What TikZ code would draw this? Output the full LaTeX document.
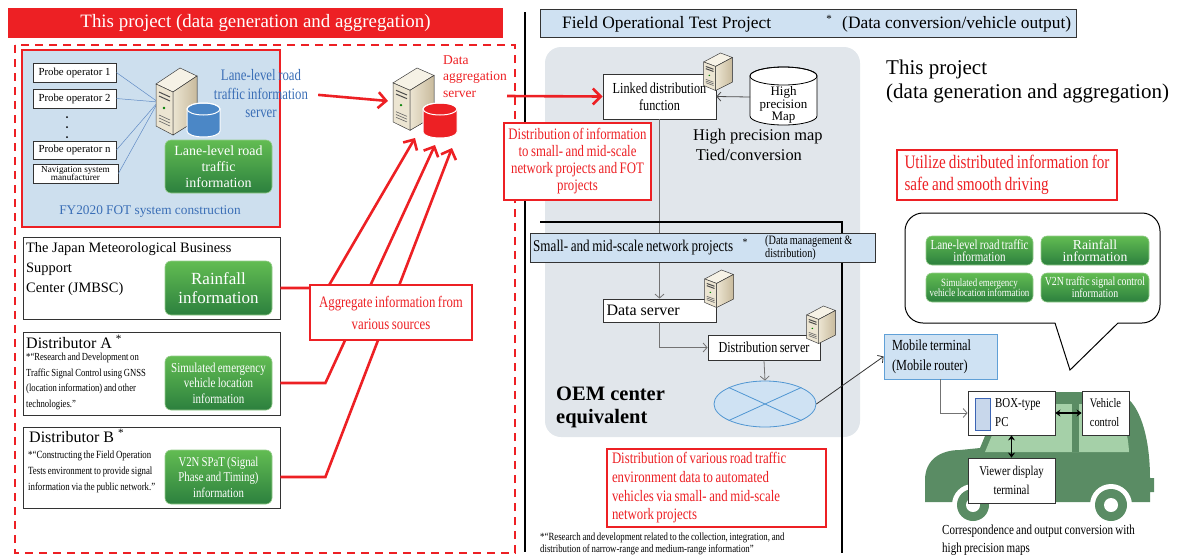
\documentclass[tikz,border=0pt]{standalone}
\usepackage{fontspec}
\setmainfont{Liberation Serif}
\newfontfamily\cond[FakeStretch=0.8,WordSpace=0.8]{Liberation Serif}
\usetikzlibrary{arrows.meta,shapes.geometric}
\definecolor{redc}{RGB}{237,32,36}
\definecolor{hdrblue}{RGB}{207,225,242}
\definecolor{fotblue}{RGB}{205,223,238}
\definecolor{bgray}{RGB}{225,230,235}
\definecolor{grnT}{RGB}{98,188,82}
\definecolor{grnB}{RGB}{44,128,62}
\definecolor{grnL}{RGB}{150,205,140}
\definecolor{labblue}{RGB}{58,110,182}
\definecolor{dbblue}{RGB}{75,135,198}
\definecolor{mobline}{RGB}{96,160,215}
\definecolor{mobfill}{RGB}{207,226,243}
\definecolor{netline}{RGB}{80,150,210}
\definecolor{carg}{RGB}{90,140,100}
\definecolor{carw}{RGB}{165,208,168}
\definecolor{pcblue}{RGB}{200,215,235}
\definecolor{pcline}{RGB}{60,100,180}
\definecolor{srvtop}{RGB}{246,242,230}
\definecolor{srvfront}{RGB}{236,229,210}
\definecolor{srvside}{RGB}{200,186,156}
\newcommand\fsz[2]{\fontsize{#1}{#2}\selectfont}
\tikzset{
  sz/.style 2 args={minimum width=#1pt,minimum height=#2pt},
  wbox/.style={draw=black!80,fill=white,line width=0.8pt,inner sep=0pt},
  info/.style={rounded corners=6pt,top color=grnT,bottom color=grnB,draw=grnL,line width=0.6pt,text=white,align=center,inner sep=0pt},
  redbox/.style={draw=redc,line width=1.6pt,fill=white,text=redc,align=center,inner sep=0pt},
  hdr/.style={draw=black!80,fill=hdrblue,line width=1pt,inner sep=0pt},
  txt/.style={anchor=north west,align=left,inner sep=0pt},
  redarr/.style={draw=redc,line width=2.6pt,-{Straight Barb[length=8pt,width=16pt]}},
  garr/.style={draw=black!55,line width=0.8pt,-{Straight Barb[length=4pt,width=9pt]}},
  dblarr/.style={draw=black,line width=1.3pt,{Stealth[length=5pt,width=7pt]}-{Stealth[length=5pt,width=7pt]}},
  server/.pic={
    \filldraw[draw=black!75,line width=0.5pt,fill=srvtop] (1,16) -- (25,0) -- (42,8) -- (18,24) -- cycle;
    \filldraw[draw=black!75,line width=0.5pt,fill=srvfront] (1,16) -- (18,24) -- (18,67) -- (1,58) -- cycle;
    \filldraw[draw=black!75,line width=0.5pt,left color=srvfront,right color=srvside] (18,24) -- (42,8) -- (42,52) -- (18,67) -- cycle;
    \foreach \d in {0,4} \draw[black!70,line width=1pt] (4,24+\d) -- (15,29+\d);
    \fill[green!50!black] (9,40) circle (1.3);
    \foreach \d in {0,3,6} \draw[black!60,line width=0.6pt] (4,47+\d) -- (15,52+\d);
  },
}

\begin{document}
\begin{tikzpicture}[x=1pt,y=-1pt]
  \useasboundingbox (0,0) rectangle (1179,558);
  \node[fill=redc,sz={495}{30},inner sep=0,text=white,font=\fsz{18.9}{20}] (ttl) at (255.5,23) {This project (data generation and aggregation)};
  \draw[redc,line width=2pt,dash pattern=on 8pt off 6pt] (15,45) rectangle (515,553);
  \node[draw=redc,line width=2pt,fill=fotblue,sz={258}{177},inner sep=0] (fot) at (151,138.5) {};
  \node[text=labblue,font=\fsz{13.3}{15}] (fotcap) at (150,212) {FY2020 FOT system construction};
  \node[wbox,sz={83}{19},font=\fsz{10.8}{12}] (p1) at (74.5,72.5) {Probe operator 1};
  \node[wbox,sz={83}{19},font=\fsz{10.8}{12}] (p2) at (74.5,98.5) {Probe operator 2};
  \node[wbox,sz={83}{18},font=\fsz{10.8}{12}] (pn) at (74.5,150) {Probe operator n};
  \node[wbox,sz={85}{19},font=\fsz{9.2}{8.5},align=center] (nav) at (75.5,173.5) {Navigation system\\manufacturer};
  \foreach \y in {117,127,137} \fill (67,\y) circle (1);
  \coordinate (srvin) at (158,102);
  \foreach \b in {p1,p2,pn,nav} \draw[labblue!80,line width=0.5pt] (\b.east) -- (srvin);
  \pic at (155,68) {server};
  \filldraw[fill=dbblue,draw=white,line width=1pt] (187,109) -- (187,131) arc[start angle=180,end angle=0,x radius=16.5,y radius=6] -- (220,109) arc[start angle=360,end angle=180,x radius=16.5,y radius=6] -- cycle;
  \draw[white,line width=1pt] (203.5,109) ellipse [x radius=16.5,y radius=6];
  \node[text=labblue,font={\cond\fsz{16}{18.5}},align=center,inner sep=0] (lanelbl) at (261,94) {Lane-level road\\traffic information\\server};
  \node[info,sz={107}{53},font=\fsz{14}{16}] (g1) at (218.5,166.5) {Lane-level road\\traffic\\information};

  \node[wbox,sz={257}{82}] (jmb) at (151.5,278) {};
  \node[txt,font=\fsz{14.4}{20}] (jmbt) at (26,242) {The Japan Meteorological Business\\Support\\Center (JMBSC)};
  \node[info,sz={107}{54},font=\fsz{17}{19}] (rain) at (218.5,288) {Rainfall\\information};
  \node[wbox,sz={257}{83}] (dsa) at (151.5,373.5) {};
  \node[txt,font=\fsz{16}{18}] (dsat) at (26,335) {Distributor A \textsuperscript{*}};
  \node[txt,font={\cond\fsz{10.8}{15.5}}] (dsad) at (26,353) {*“Research and Development on\\Traffic Signal Control using GNSS\\(location information) and other\\technologies.”};
  \node[info,sz={107}{54},font={\cond\fsz{13.7}{15.5}}] (emg) at (218.5,383) {Simulated emergency\\vehicle location\\information};
  \node[wbox,sz={257}{81}] (dsb) at (151.5,467.5) {};
  \node[txt,font=\fsz{16}{18}] (dsbt) at (29,429) {Distributor B \textsuperscript{*}};
  \node[txt,font={\cond\fsz{11}{16}}] (dsbd) at (28,451) {*“Constructing the Field Operation\\Tests environment to provide signal\\information via the public network.”};
  \node[info,sz={107}{54},font={\cond\fsz{13.5}{15.5}}] (v2n) at (218.5,477) {V2N SPaT (Signal\\Phase and Timing)\\information};

  \pic[yscale=0.93] at (392,68) {server};
  \filldraw[fill=redc,draw=white,line width=1pt] (423,109) -- (423,132) arc[start angle=180,end angle=0,x radius=17,y radius=6] -- (457,109) arc[start angle=360,end angle=180,x radius=17,y radius=6] -- cycle;
  \draw[white,line width=1pt] (440,109) ellipse [x radius=17,y radius=6];
  \node[txt,text=redc,font=\fsz{13.5}{16.5}] (agglbl) at (443,55) {Data\\aggregation\\server};
  \coordinate (aggin) at (388,101);
  \coordinate (aggout) at (507,96);
  \coordinate (agg1) at (415,138);
  \coordinate (agg2) at (435,145);
  \coordinate (agg3) at (452,148);
  \draw[redarr,shorten <=10pt] (lanelbl.east) -- (aggin);
  \draw[redarr] (jmb.east |- rain.east) -- ++(47,0) -- (agg1);
  \draw[redarr] (dsa.east |- emg.east) -- ++(45,0) -- (agg2);
  \draw[redarr] (dsb.east |- v2n.east) -- ++(45,0) -- (agg3);
  \node[redbox,sz={162}{55},font={\cond\fsz{16}{22}}] (aggr) at (391,312.5) {Aggregate information from\\various sources};

  \draw[black,line width=2pt] (525,12) -- (525,552);
  \node[hdr,sz={536}{28}] (fothdr) at (808,23) {};
  \node[anchor=west,inner sep=0,font=\fsz{17.4}{18}] (fott) at (562,24) {Field Operational Test Project};
  \node[inner sep=0,font=\fsz{11}{11}] (fotst) at (829,19) {*};
  \node[anchor=west,inner sep=0,font=\fsz{17.4}{18}] (fotsub) at (842,24) {(Data conversion/vehicle output)};
  \fill[bgray,rounded corners=16pt] (545,47) rectangle (860,437);

  \node[wbox,sz={113}{45},font={\cond\fsz{15.3}{17}},align=center] (lnk) at (659.5,96.5) {Linked distribution\\function};
  \node[wbox,sz={113}{23},font=\fsz{16}{16},align=flush left,text width=106pt] (dat) at (659.5,310.5) {Data server};
  \draw[garr] (lnk.south) -- (dat.north);
  \draw[black,line width=2pt] (540,222) -- (842,222) -- (842,553);
  \node[hdr,sz={345}{29}] (smh) at (702.5,247.5) {};
  \node[anchor=west,inner sep=0,font={\cond\fsz{16.4}{17}}] (smt) at (533,248) {Small- and mid-scale network projects};
  \node[inner sep=0,font=\fsz{10}{10}] (smst) at (745,242) {*};
  \node[anchor=west,align=left,inner sep=0,font={\cond\fsz{12.8}{11.5}}] (smsub) at (765,248) {(Data management \&\\distribution)};

  \pic[xscale=.7,yscale=.56] at (703,53) {server};
  \filldraw[fill=white,draw=black,line width=0.8pt] (750,76) -- (750,116) arc[start angle=180,end angle=0,x radius=33.5,y radius=9] -- (817,76) arc[start angle=360,end angle=180,x radius=33.5,y radius=9] -- cycle;
  \draw[black,line width=0.8pt] (783.5,76) ellipse [x radius=33.5,y radius=9];
  \node[align=center,inner sep=0,font=\fsz{13}{12.5}] (maptx) at (783.5,105) {High\\precision\\Map};
  \coordinate (mapw) at (750,97);
  \draw[garr,draw=black!70] (mapw) -- (lnk.east);
  \node[txt,font=\fsz{16.4}{20}] (hpm) at (693,129) {High precision map\\\,Tied/conversion};
  \node[redbox,sz={147}{77},font={\cond\fsz{16}{17}}] (dinf) at (577.5,161.5) {Distribution of information\\to small- and mid-scale\\network projects and FOT\\projects};
  \draw[redarr] (aggout) -- (lnk.west);

  \pic[xscale=.7,yscale=.56] at (704,270) {server};
  \node[wbox,sz={112}{25},font={\cond\fsz{15.2}{15}}] (dsv) at (764,347.5) {Distribution server};
  \pic[xscale=.7,yscale=.56] at (806,306) {server};
  \draw[garr] (dat.south) |- (dsv.west);
  \node[ellipse,draw=netline,fill=mobfill,line width=0.8pt,sz={102}{46},inner sep=0] (net) at (765,404) {};
  \draw[netline,line width=0.8pt] (net.north west) -- (net.south east) (net.north east) -- (net.south west);
  \draw[garr] (dsv.south) -- (net.north);
  \node[txt,font={\bfseries\fsz{20.5}{23}}] (oem) at (556,387) {OEM center\\equivalent};
  \node[redbox,sz={219}{78},font={\cond\fsz{16}{18.7}},align=flush left,text width=209pt] (dveh) at (716.5,488) {Distribution of various road traffic\\environment data to automated\\vehicles via small- and mid-scale\\network projects};
  \node[txt,font={\cond\fsz{11}{12}}] (fn) at (540,533) {*“Research and development related to the collection, integration, and\\distribution of narrow-range and medium-range information”};

  \node[txt,font=\fsz{21}{24}] (tp) at (886,60) {This project\\(data generation and aggregation)};
  \node[redbox,sz={220}{50},font={\cond\fsz{19}{22}},align=left] (util) at (1007,175) {Utilize distributed information for\\safe and smooth driving};
  \draw[line width=1pt,rounded corners=18pt] (1055,323) -- (905,323) -- (905,213) -- (1160,213) -- (1160,323) -- (1118,323);
  \draw[line width=1pt] (1118,323) -- (1070,370) -- (1055,323);
  \node[info,sz={107}{29},font={\cond\fsz{13.8}{12.5}}] (b1) at (979.5,250.5) {Lane-level road traffic\\information};
  \node[info,sz={108}{29},font=\fsz{13.7}{12.5}] (b2) at (1095,250.5) {Rainfall\\information};
  \node[info,sz={107}{29},font={\cond\fsz{11.1}{10.5}}] (b3) at (979.5,287.5) {Simulated emergency\\vehicle location information};
  \node[info,sz={108}{29},font={\cond\fsz{12.3}{12}}] (b4) at (1095,287.5) {V2N traffic signal control\\information};
  \node[draw=mobline,fill=mobfill,line width=0.8pt,sz={113}{45},inner sep=0,align=flush left,text width=97pt,font={\cond\fsz{15.4}{20}}] (mob) at (940.5,356.5) {Mobile terminal\\(Mobile router)};

  \fill[carg] (925,502) -- (925,480) .. controls (925,460) and (940,450) .. (960,450) -- (980,448) -- (1000,400) .. controls (1003,393) and (1006,392) .. (1014,392) -- (1112,392) .. controls (1136,392) and (1150,430) .. (1150,478) -- (1154,478) -- (1154,492) -- (1150,492) -- (1150,502) -- cycle;
  \fill[carw] (985,452) -- (1005,404) -- (1108,404) .. controls (1120,404) and (1128,430) .. (1129,452) -- cycle;
  \fill[carg] (1072,400) rectangle (1079,452);
  \foreach \wx in {973,1111} {
    \fill[white] (\wx,505) circle (21);
    \fill[carg] (\wx,505) circle (16);
    \fill[white] (\wx,505) circle (7);
  }
  \node[wbox,sz={87}{44}] (pc) at (1011.5,413) {};
  \filldraw[fill=pcblue,draw=pcline,line width=1pt] (975,398) rectangle (990,430);
  \node[anchor=west,align=left,inner sep=0,font={\cond\fsz{13.6}{19}}] (pct) at (995,413) {BOX-type\\PC};
  \node[wbox,sz={47}{44},align=left,font={\cond\fsz{13}{19}}] (veh) at (1105.5,413) {Vehicle\\control};
  \node[wbox,sz={87}{45},align=center,font={\cond\fsz{13.5}{19}}] (vw) at (1011.5,480.5) {Viewer display\\terminal};
  \draw[dblarr] (pc.east) -- (veh.west);
  \draw[dblarr] (pc.south) -- (vw.north);
  \draw[garr] (mob.south) |- (pc.west);
  \draw[garr,draw=black!80] (net.east) -- (mob.west);
  \node[txt,font={\cond\fsz{13.8}{18}}] (cor) at (942,525) {Correspondence and output conversion with\\high precision maps};
\end{tikzpicture}
\end{document}
